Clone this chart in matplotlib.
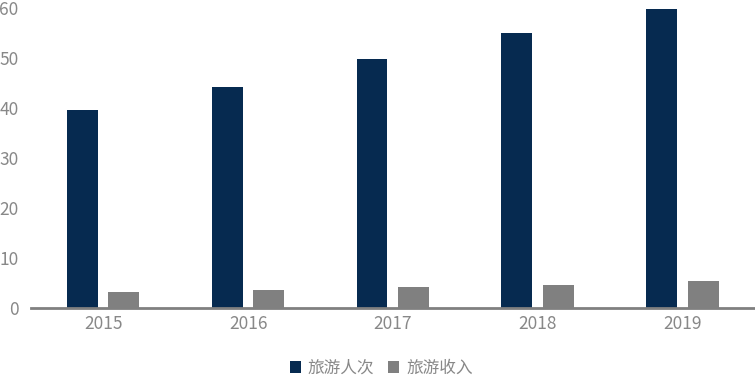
"""Tourism visitors vs revenue, 2015-2019, grouped bars."""

import matplotlib

matplotlib.use("Agg")
import matplotlib.pyplot as plt
import numpy as np

plt.rcParams["font.family"] = ["Noto Sans CJK SC", "DejaVu Sans"]

years = ["2015", "2016", "2017", "2018", "2019"]
visitors = [39.6, 44.2, 49.8, 55.0, 59.8]   # 旅游人次
revenue = [3.2, 3.6, 4.2, 4.6, 5.4]         # 旅游收入

NAVY = "#062a50"
GREY = "#808080"
TEXT = "#888888"

fig = plt.figure(figsize=(7.55, 3.77), dpi=100, facecolor="white")
ax = fig.add_axes([31 / 755, 1 - 308 / 377, 724 / 755, 300 / 377])

x = np.arange(len(years))
w = 0.214
ax.bar(x - 0.145, visitors, w, color=NAVY, label="旅游人次", zorder=2)
ax.bar(x + 0.141, revenue, w, color=GREY, label="旅游收入", zorder=2)

ax.set_xlim(-0.5, len(years) - 0.5)
ax.set_ylim(0, 60)
ax.set_yticks(range(0, 61, 10))
ax.set_xticks(x)
ax.set_xticklabels(years)

for s in ("top", "right", "left"):
    ax.spines[s].set_visible(False)
ax.spines["bottom"].set_color(GREY)
ax.spines["bottom"].set_linewidth(2)
ax.tick_params(axis="both", length=0, colors=TEXT, labelsize=12.5)
ax.tick_params(axis="x", pad=5)
ax.tick_params(axis="y", pad=9)

ax.legend(
    loc="center", bbox_to_anchor=(381 / 755, 1 - 368 / 377),
    bbox_transform=fig.transFigure, ncol=2, frameon=False,
    fontsize=12, labelcolor=TEXT, handlelength=0.7, handleheight=0.7,
    handletextpad=0.4, columnspacing=0.8,
)

fig.savefig("out.png", dpi=100, facecolor="white")
